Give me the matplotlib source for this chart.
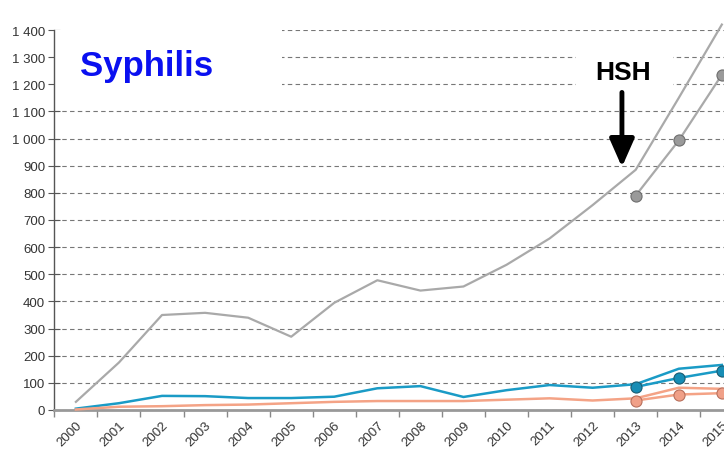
"""Syphilis case counts by year, with the HSH subgroup highlighted."""

import matplotlib
matplotlib.use("Agg")
import matplotlib.pyplot as plt
from matplotlib.patches import Rectangle
from matplotlib.ticker import FuncFormatter, FixedLocator
import numpy as np

YEARS = [str(y) for y in range(2000, 2016)]

# Full series, 2000-2015
TOTAL_GRAY = [30, 175, 350, 358, 340, 270, 395, 478, 440, 455, 535, 632, 755, 885, 1150, 1420]
TOTAL_BLUE = [5, 25, 52, 51, 44, 44, 49, 80, 88, 48, 73, 92, 82, 95, 152, 166]
TOTAL_SALMON = [2, 12, 14, 18, 20, 25, 30, 33, 33, 33, 38, 43, 35, 43, 82, 78]

# Series with markers, 2013-2015 only
MARKED_YEARS = ["2013", "2014", "2015"]
MARKED_GRAY = [790, 993, 1235]
MARKED_BLUE = [85, 118, 145]
MARKED_SALMON = [35, 57, 62]

GRAY = "#a9a9a9"
BLUE = "#1a9bc6"
SALMON = "#f4a386"

plt.rcParams["font.family"] = ["Liberation Sans Narrow", "Liberation Sans", "DejaVu Sans"]

fig = plt.figure(figsize=(7.24, 4.52), dpi=100)
ax = fig.add_axes([53.5 / 724, 41 / 452, 1 - 53.5 / 724, 380 / 452])

x = np.arange(len(YEARS))
mx = np.array([YEARS.index(y) for y in MARKED_YEARS])

ax.plot(x, TOTAL_GRAY, color=GRAY, lw=1.6, zorder=3, clip_on=False)
ax.plot(x, TOTAL_BLUE, color=BLUE, lw=1.8, zorder=3, clip_on=False)
ax.plot(x, TOTAL_SALMON, color=SALMON, lw=1.8, zorder=3, clip_on=False)

ax.plot(mx, MARKED_GRAY, color=GRAY, lw=1.6, marker="o", ms=8,
        mfc="#9a9a9a", mec="#6e6e6e", mew=0.8, zorder=4, clip_on=False)
ax.plot(mx, MARKED_BLUE, color=BLUE, lw=1.8, marker="o", ms=8,
        mfc="#178db5", mec="#1b5c72", mew=0.8, zorder=4, clip_on=False)
ax.plot(mx, MARKED_SALMON, color=SALMON, lw=1.8, marker="o", ms=8,
        mfc="#f0a088", mec="#b8705c", mew=0.8, zorder=4, clip_on=False)

ax.set_xlim(-0.52, 15.05)
ax.set_ylim(0, 1400)

# dashed horizontal grid
ax.set_axisbelow(True)
ax.yaxis.set_major_locator(FixedLocator(np.arange(0, 1401, 100)))
ax.yaxis.grid(True, linestyle=(0, (4, 3)), color="#777777", lw=0.8)
ax.yaxis.set_major_formatter(FuncFormatter(lambda v, p: f"{int(v):,}".replace(",", " ")))

# white patches behind the two labels
ax.add_patch(Rectangle((-0.52, 1150), 5.31, 270, facecolor="white",
                       edgecolor="none", zorder=1))
ax.add_patch(Rectangle((11.61, 1170), 2.25, 200, facecolor="white",
                       edgecolor="none", zorder=1))

# year labels at category centres, tick marks at boundaries
ax.set_xticks(x)
ax.set_xticklabels(YEARS, rotation=45, ha="right", va="top", rotation_mode="anchor",
                   fontsize=9.5, color="#333333")
ax.tick_params(axis="x", which="major", length=0, pad=6)
ax.set_xticks(np.arange(-0.5, 15.5, 1), minor=True)
ax.tick_params(axis="x", which="minor", length=5, width=1, color="#888888",
               direction="out")
ax.tick_params(axis="y", length=8, width=0.8, color="#555555", direction="inout",
               labelsize=9.5, labelcolor="#333333", pad=2)

for side in ("top", "right"):
    ax.spines[side].set_visible(False)
ax.spines["left"].set_color("#555555")
ax.spines["left"].set_linewidth(1)
ax.spines["bottom"].set_color("#999999")
ax.spines["bottom"].set_linewidth(2)

ax.text(0.1, 1270, "Syphilis", color="#0a10f0", fontsize=25, fontweight="bold",
        family=["Liberation Sans", "DejaVu Sans"], va="center", ha="left", zorder=5)
ax.text(12.7, 1245, "HSH", color="black", fontsize=19, fontweight="bold",
        family=["Liberation Sans", "DejaVu Sans"], va="center", ha="center", zorder=5)
ax.annotate("", xy=(12.68, 895), xytext=(12.68, 1170),
            arrowprops=dict(arrowstyle="-|>,head_width=0.75,head_length=1.7",
                            color="black", lw=3.5, shrinkA=0, shrinkB=0), zorder=5)

fig.savefig("out.png", dpi=100)
